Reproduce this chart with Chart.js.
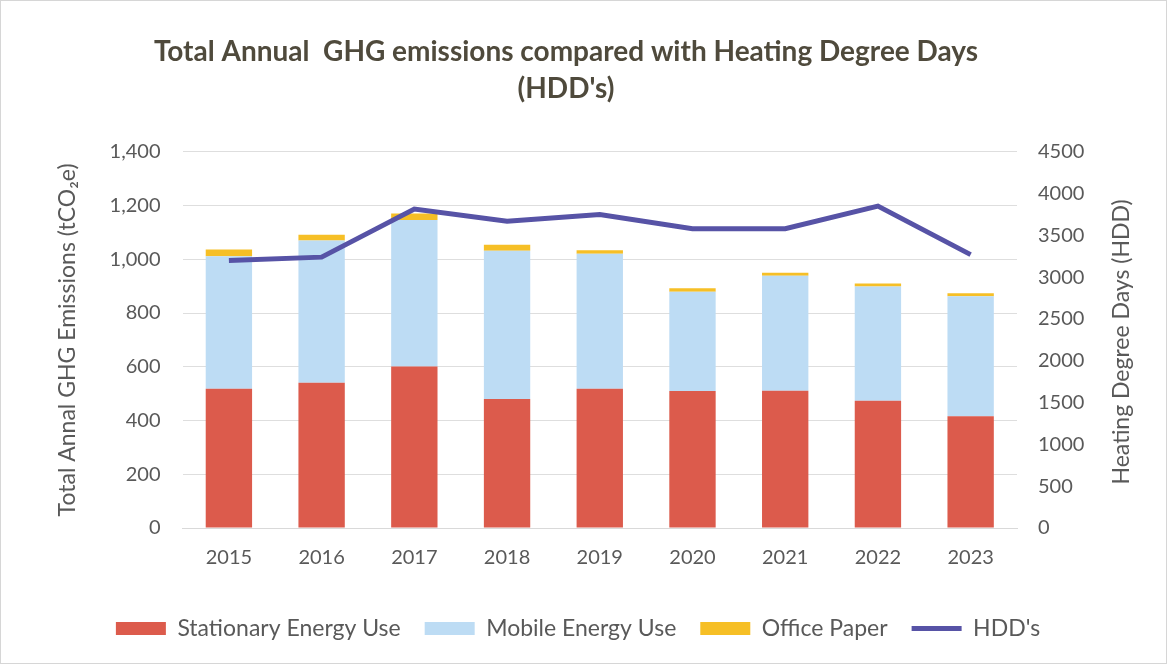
<!DOCTYPE html>
<html>
<head>
<meta charset="utf-8">
<script src="https://cdn.jsdelivr.net/npm/chart.js@4"></script>
<style>
  html, body { margin: 0; padding: 0; background: #ffffff; }
  #wrap { position: relative; width: 1167px; height: 664px; box-sizing: border-box; border: 1px solid #d6d6d6; }
  canvas { display: block; }
</style>
</head>
<body>
<div id="wrap"><canvas id="c" width="1165" height="662"></canvas></div>
<script>
const years = ['2015', '2016', '2017', '2018', '2019', '2020', '2021', '2022', '2023'];
const stationaryEnergy = [518, 541, 601, 480, 518, 510, 511, 474, 416];
const mobileEnergy = [493, 529, 545, 552, 503, 369, 428, 425, 446];
const officePaper = [25, 21, 24, 22, 13, 13, 11, 11, 12];
const hdd = [3200, 3240, 3815, 3670, 3750, 3580, 3580, 3850, 3270];

const leftTicksMax = 1400;
const rightTicksMax = 4500;

const TEXT = '#595959';
const FONT = 'Lato, "Open Sans", "Liberation Sans", sans-serif';

const rightTitlePlugin = {
  id: 'rightTitle',
  afterLayout(chart) {
    // nudge the legend row down and the title slightly left
    const lg = chart.legend;
    if (lg) { lg.top += 13; lg.bottom += 13; }
    const tb = chart.titleBlock;
    if (tb) { tb.left -= 12; tb.right -= 12; }
  },
  afterDraw(chart) {
    const s = chart.scales.y1;
    const ctx = chart.ctx;
    ctx.save();
    ctx.font = '23px ' + FONT;
    ctx.fillStyle = TEXT;
    ctx.textAlign = 'center';
    ctx.textBaseline = 'middle';
    const x = s.right - 11;
    const y = (chart.chartArea.top + chart.chartArea.bottom) / 2 + 2;
    ctx.translate(x, y);
    ctx.rotate(-Math.PI / 2);
    ctx.fillText('Heating Degree Days (HDD)', 0, 0);
    ctx.restore();
  }
};

new Chart(document.getElementById('c'), {
  type: 'bar',
  data: {
    labels: years,
    datasets: [
      { label: 'Stationary Energy Use', data: stationaryEnergy, backgroundColor: '#dc5b4c', yAxisID: 'y', order: 1, stack: 's' },
      { label: 'Mobile Energy Use', data: mobileEnergy, backgroundColor: '#bddcf4', yAxisID: 'y', order: 1, stack: 's' },
      { label: 'Office Paper', data: officePaper, backgroundColor: '#f6bf26', yAxisID: 'y', order: 1, stack: 's' },
      { label: "HDD's", type: 'line', data: hdd, borderColor: '#5753a6', backgroundColor: '#5753a6', borderWidth: 5, pointRadius: 0, tension: 0, yAxisID: 'y1', order: 0 }
    ]
  },
  options: {
    responsive: false,
    animation: false,
    layout: { padding: { left: 22, right: 33, top: 33, bottom: 26 } },
    datasets: { bar: { categoryPercentage: 1.0, barPercentage: 0.5 } },
    plugins: {
      title: {
        display: true,
        text: ['Total Annual  GHG emissions compared with Heating Degree Days', "(HDD's)"],
        color: '#4f4a3c',
        font: { family: FONT, size: 28, weight: 'bold', lineHeight: 1.3 },
        padding: { top: 0, bottom: 45 }
      },
      legend: {
        position: 'bottom',
        labels: {
          color: TEXT,
          font: { family: FONT, size: 23 },
          usePointStyle: true,
          pointStyleWidth: 50,
          boxHeight: 13,
          padding: 24,
          sort: (a, b) => a.datasetIndex - b.datasetIndex,
          generateLabels(chart) {
            const items = Chart.defaults.plugins.legend.labels.generateLabels(chart);
            items.forEach(it => {
              const ds = chart.data.datasets[it.datasetIndex];
              if (ds.type === 'line') {
                it.pointStyle = 'line';
                it.lineWidth = 5;
                it.strokeStyle = ds.borderColor;
              } else {
                it.pointStyle = 'rect';
                it.lineWidth = 0;
                it.strokeStyle = ds.backgroundColor;
              }
            });
            return items;
          }
        }
      },
      tooltip: { enabled: false }
    },
    scales: {
      x: {
        stacked: true,
        grid: { display: false },
        border: { display: true, color: '#d9d9d9' },
        ticks: { color: TEXT, font: { family: FONT, size: 20 }, padding: 10 }
      },
      y: {
        stacked: true,
        position: 'left',
        min: 0, max: leftTicksMax,
        ticks: { stepSize: 200, color: TEXT, font: { family: FONT, size: 20 }, padding: 22,
                 callback: v => v.toLocaleString('en-US') },
        grid: { color: '#dedede', drawTicks: false },
        border: { display: false },
        title: { display: true, text: 'Total Annal GHG Emissions (tCO\u2082e)', color: TEXT,
                 font: { family: FONT, size: 23 }, padding: { top: 31, bottom: 6 } }
      },
      y1: {
        position: 'right',
        min: 0, max: rightTicksMax,
        ticks: { stepSize: 500, color: TEXT, font: { family: FONT, size: 20 }, padding: 21,
                 callback: v => String(v) },
        grid: { display: false, drawTicks: false },
        border: { display: false },
        title: { display: true, text: 'Heating Degree Days (HDD)', color: 'rgba(0,0,0,0)',
                 font: { family: FONT, size: 23 }, padding: { top: 0, bottom: 0 } }
      }
    }
  },
  plugins: [rightTitlePlugin]
});
</script>
</body>
</html>
